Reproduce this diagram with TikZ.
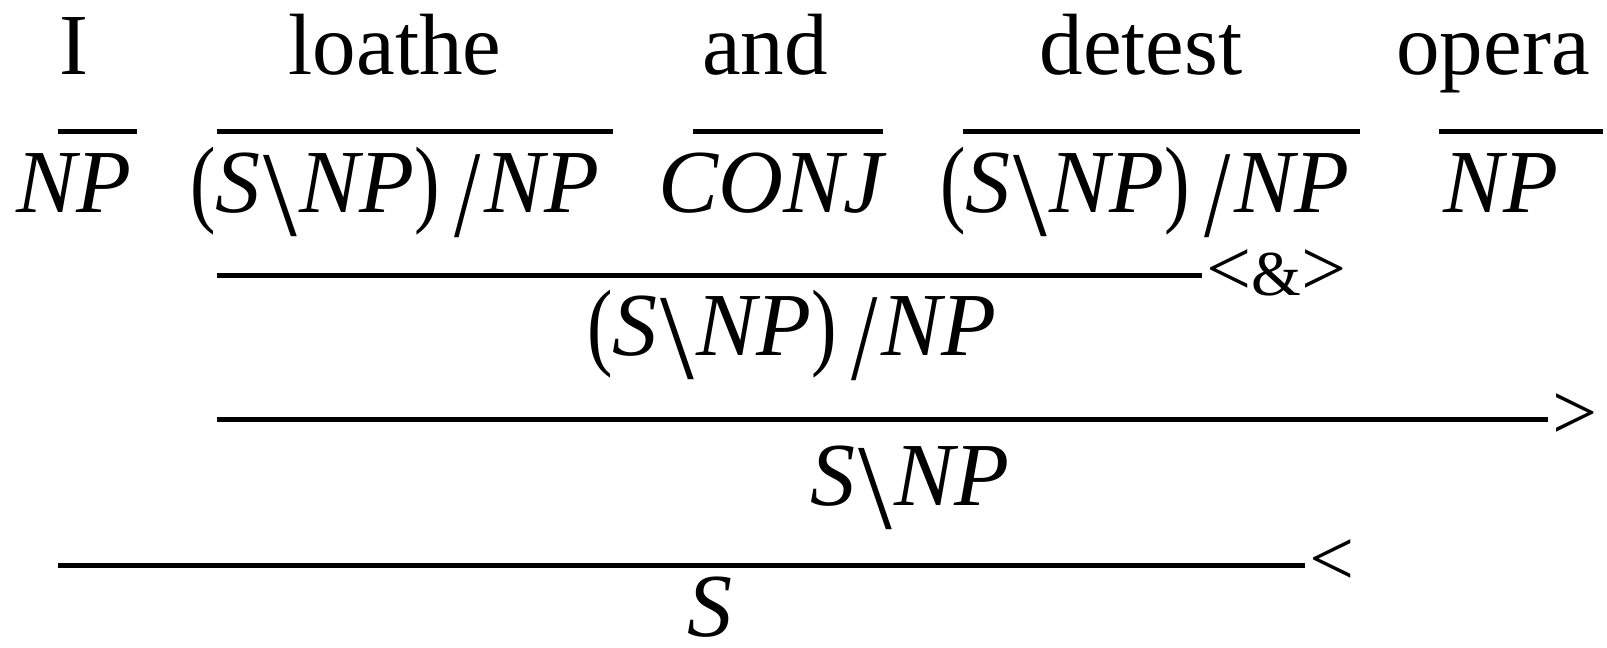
\documentclass[tikz,border=0pt]{standalone}
\usepackage{fontspec}
\usepackage{graphicx}
\setmainfont{Liberation Serif}
% category notation: tall thin brackets and slashes
\newcommand\bsl{\hspace{0.03em}\raisebox{-0.26em}{\scalebox{1.35}{\upshape\textbackslash}}\hspace{0.03em}}
\newcommand\fsl{\hspace{0.16em}\raisebox{-0.27em}{\scalebox{1.05}[1.38]{\upshape /}}\hspace{0.04em}}
\newcommand\lpar{\raisebox{-0.03em}{\scalebox{0.85}[1.08]{\upshape(}}}
\newcommand\rpar{\raisebox{-0.03em}{\scalebox{0.85}[1.08]{\upshape)}}}
\newcommand\tvcat{\lpar S\bsl NP\rpar\fsl NP}
\begin{document}
\begin{tikzpicture}[x=1pt,y=-1pt,
  word/.style={anchor=base,inner sep=0pt,font=\fontsize{87}{100}\selectfont},
  cat/.style={anchor=base,inner sep=0pt,font=\fontsize{90}{100}\selectfont\itshape},
  rule/.style={line width=5pt},
  ruletag/.style={anchor=base west,inner sep=0pt,xshift=4pt,yshift=-20pt,
    font=\fontsize{80}{90}\selectfont}]
\useasboundingbox (0,0) rectangle (1607,648);

% words
\node[word] (wI) at (74,74) {I};
\node[word] (wloathe) at (395,74) {loathe};
\node[word] (wand) at (765,74) {and};
\node[word] (wdetest) at (1141,74) {detest};
\node[word] (wopera) at (1493,74) {opera};

% lexical rules
\coordinate (lIa) at (58,131);    \coordinate (lIb) at (137,131);
\coordinate (lLa) at (217,131);   \coordinate (lLb) at (613,131);
\coordinate (lAa) at (693,131);   \coordinate (lAb) at (883,131);
\coordinate (lDa) at (963,131);   \coordinate (lDb) at (1360,131);
\coordinate (lOa) at (1439,131);  \coordinate (lOb) at (1603,131);
\draw[rule] (lIa) -- (lIb);
\draw[rule] (lLa) -- (lLb);
\draw[rule] (lAa) -- (lAb);
\draw[rule] (lDa) -- (lDb);
\draw[rule] (lOa) -- (lOb);

% lexical categories
\node[cat] (cI) at (74,212) {NP};
\node[cat] (cloathe) at (395,212) {\tvcat};
\node[cat] (cand) at (771,212) {CONJ};
\node[cat] (cdetest) at (1145,212) {\tvcat};
\node[cat] (copera) at (1501,212) {NP};

% coordination
\coordinate (r1a) at (217,275); \coordinate (r1b) at (1202,275);
\draw[rule] (r1a) -- (r1b);
\node[ruletag] (t1) at (r1b) {<{\fontsize{64}{70}\selectfont\&}>};
\node[cat] (c1) at (792,355) {\tvcat};

% forward application
\coordinate (r2a) at (217,419); \coordinate (r2b) at (1548,419);
\draw[rule] (r2a) -- (r2b);
\node[ruletag] (t2) at (r2b) {>};
\node[cat] (c2) at (910,505) {S\bsl NP};

% backward application
\coordinate (r3a) at (58,565); \coordinate (r3b) at (1305,565);
\draw[rule] (r3a) -- (r3b);
\node[ruletag] (t3) at (r3b) {<};
\node[cat] (c3) at (710,636) {S};
\end{tikzpicture}
\end{document}
